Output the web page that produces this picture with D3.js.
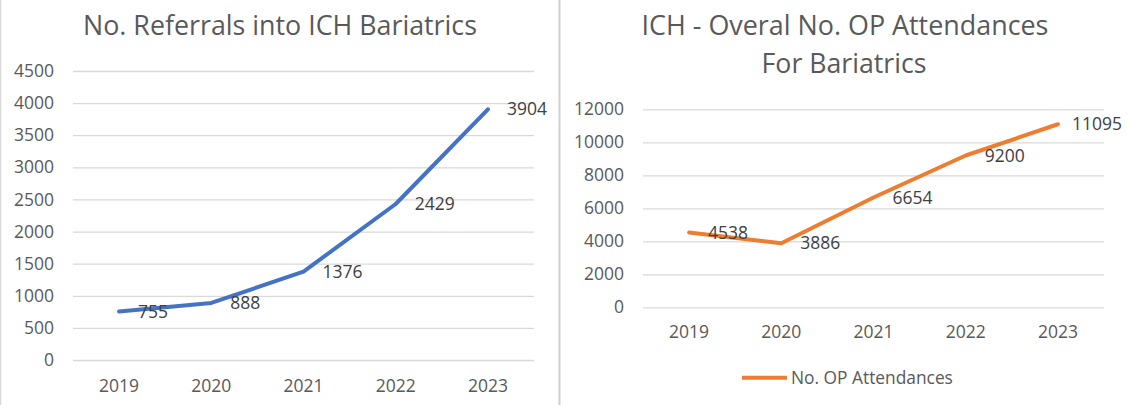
<!DOCTYPE html>
<html lang="en">
<head>
<meta charset="utf-8">
<title>ICH Bariatrics</title>
<script src="https://cdn.jsdelivr.net/npm/d3@7"></script>
<style>
  body { margin: 0; background: #fff; }
  text { font-family: "Open Sans", "Noto Sans", sans-serif; }
</style>
</head>
<body>
<script>
// data
var years = ["2019", "2020", "2021", "2022", "2023"];
var referrals = [755, 888, 1376, 2429, 3904];
var attendances = [4538, 3886, 6654, 9200, 11095];
var refTicks = [0, 500, 1000, 1500, 2000, 2500, 3000, 3500, 4000, 4500];
var attTicks = [0, 2000, 4000, 6000, 8000, 10000, 12000];

var w = 1129, h = 405;
var svg = d3.select("body").append("svg")
    .attr("width", w)
    .attr("height", h);

// frame lines
svg.append("line").attr("x1", 0.5).attr("x2", 0.5).attr("y1", 0).attr("y2", h)
   .attr("stroke", "#d9d9d9").attr("stroke-width", 1.5);
svg.append("line").attr("x1", 559.5).attr("x2", 559.5).attr("y1", 0).attr("y2", h)
   .attr("stroke", "#d0d0d0").attr("stroke-width", 2);

// shrink/grow a text so it spans the given width
function fitText(sel, width) {
    var len = sel.node().getComputedTextLength();
    var fs = parseFloat(sel.attr("font-size"));
    sel.attr("font-size", fs * width / len);
}

var fs = 17.5;

function drawChart(opt) {
    var g = svg.append("g");

    var x = d3.scaleBand().domain(years).range([opt.left, opt.right]);
    var y = d3.scaleLinear().domain([0, d3.max(opt.ticks)]).range([opt.bottom, opt.top]);

    // gridlines + y labels
    var yAxis = d3.axisLeft(y).tickValues(opt.ticks)
        .tickSize(-(opt.right - opt.left)).tickPadding(19).tickFormat(d3.format("d"));
    var ya = g.append("g").attr("transform", "translate(" + opt.left + ",0)").call(yAxis);
    ya.select(".domain").remove();
    ya.selectAll(".tick line").attr("stroke", "#d9d9d9").attr("stroke-width", 1.3);
    ya.selectAll(".tick text").attr("fill", "#595959").attr("font-size", fs)
      .attr("font-family", "'Open Sans', sans-serif");

    // x labels
    var xAxis = d3.axisBottom(x).tickSize(0).tickPadding(0);
    var xa = g.append("g").attr("transform", "translate(0," + opt.xLabelY + ")").call(xAxis);
    xa.select(".domain").remove();
    xa.selectAll(".tick text").attr("fill", "#595959").attr("font-size", fs)
      .attr("font-family", "'Open Sans', sans-serif").attr("dy", "0.35em");

    var line = d3.line()
        .x(function(d, i) { return x(years[i]) + x.bandwidth() / 2; })
        .y(function(d) { return y(d); });

    g.append("path").datum(opt.values)
        .attr("d", line)
        .attr("fill", "none")
        .attr("stroke", opt.color)
        .attr("stroke-width", 4)
        .attr("stroke-linejoin", "round")
        .attr("stroke-linecap", "round");

    // data labels on the right of each point
    g.selectAll("text.lbl").data(opt.values).enter()
        .append("text").attr("class", "lbl")
        .text(function(d) { return d; })
        .attr("font-size", fs)
        .attr("fill", "#404040")
        .attr("dy", "0.35em")
        .attr("y", function(d) { return y(d); })
        .attr("x", function(d, i) {
            var px = x(years[i]) + x.bandwidth() / 2 + 19;
            var tw = this.getComputedTextLength();
            return Math.min(px, opt.labelMax - tw);
        });

    // title
    opt.title.forEach(function(t) {
        var tt = g.append("text").text(t.text)
            .attr("x", t.cx).attr("y", t.y)
            .attr("text-anchor", "middle")
            .attr("font-size", 24)
            .attr("fill", "#595959");
        fitText(tt, t.width);
    });
    return { x: x, y: y };
}

drawChart({
    left: 73, right: 534, top: 71, bottom: 360,
    ticks: refTicks, values: referrals, color: "#4472C4",
    xLabelY: 386, labelMax: 556,
    title: [{ text: "No. Referrals into ICH Bariatrics", cx: 280, y: 35, width: 394 }]
});

drawChart({
    left: 643, right: 1104, top: 109.3, bottom: 307.3,
    ticks: attTicks, values: attendances, color: "#ED7D31",
    xLabelY: 332, labelMax: 1122,
    title: [
        { text: "ICH - Overal No. OP Attendances", cx: 845, y: 35, width: 407 },
        { text: "For Bariatrics", cx: 844, y: 73, width: 165 }
    ]
});

// legend for the right chart
var legend = svg.append("g");
legend.append("line")
    .attr("x1", 742).attr("x2", 787).attr("y1", 377.7).attr("y2", 377.7)
    .attr("stroke", "#ED7D31").attr("stroke-width", 4);
var lt = legend.append("text").text("No. OP Attendances")
    .attr("x", 791).attr("y", 377.7).attr("dy", "0.35em")
    .attr("font-size", 17).attr("fill", "#595959");
fitText(lt, 162);
</script>
</body>
</html>
